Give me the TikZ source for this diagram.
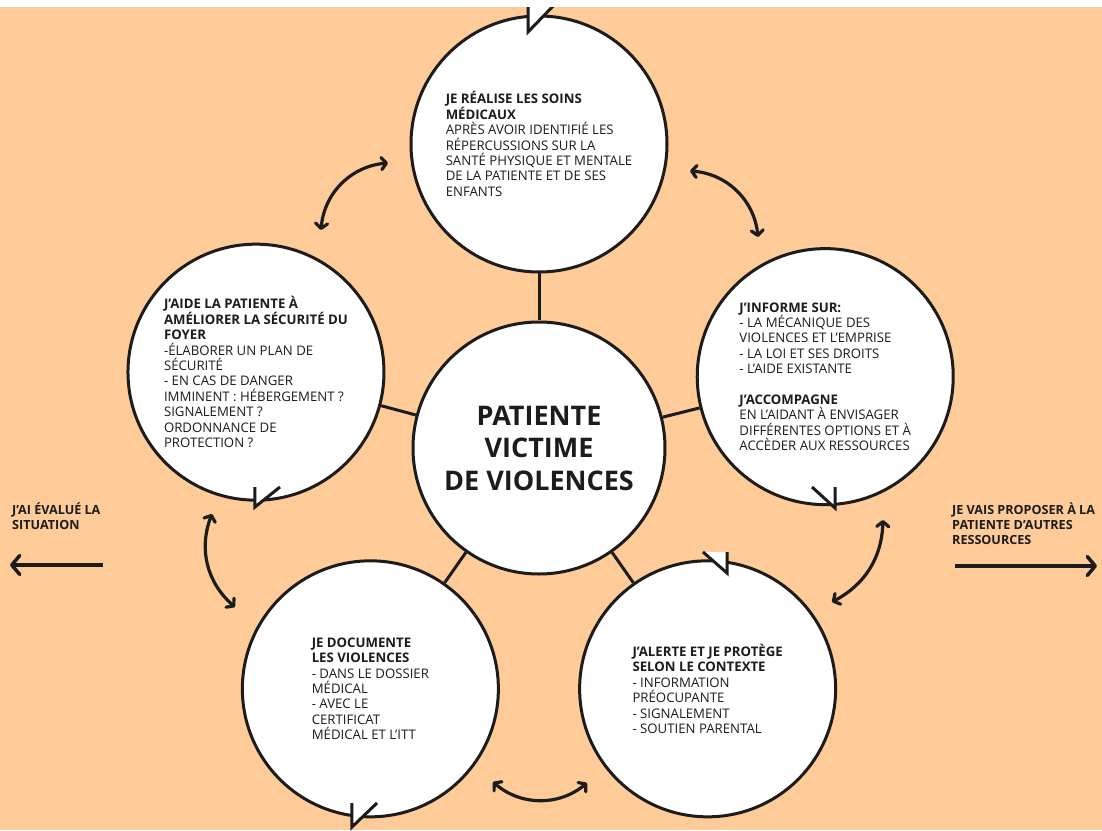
\documentclass[tikz,border=0pt]{standalone}
\usepackage{fontspec}
\setmainfont{Open Sans}
\usetikzlibrary{arrows.meta, positioning, calc, backgrounds}
\definecolor{peachBg}{RGB}{254, 203, 153}
\definecolor{inkDark}{RGB}{28, 28, 28}
\tikzset{
    % Base Circle Style
    bubble/.style={
        circle,
        draw=inkDark,
        line width=3pt,
        fill=white,
        minimum size=256pt,
        inner sep=0pt,
        align=left,
        text=inkDark,
        font=\fontsize{13.2}{15.4}\selectfont
    },
    % Centre Circle
    hubCircle/.style={bubble, minimum size=252pt, align=center, font=\bfseries\fontsize{27}{32.5}\selectfont},
    % Links, Arrows & Labels
    link/.style={draw=inkDark, line width=3pt},
    cycleArrow/.style={{Straight Barb[round, length=5pt, width=12pt]}-{Straight Barb[round, length=5pt, width=12pt]}, draw=inkDark, line width=3.2pt},
    exitArrow/.style={-{Straight Barb[round, length=8pt, width=19pt]}, draw=inkDark, line width=3.5pt},
    bubbleTail/.style={draw=inkDark, fill=white, line width=3pt},
    sideLabel/.style={font=\bfseries\fontsize{12.6}{15}\selectfont, align=left, anchor=north west, inner sep=0pt, text=inkDark}
}

\begin{document}
\begin{tikzpicture}[x=1pt, y=1pt]

    \useasboundingbox (-539,-382) rectangle (563,448);
    \fill[peachBg] (-539,-382) rectangle (563,448);

    % --- CENTRE ---
    \node (hub) [hubCircle] at (0,0) {PATIENTE\\VICTIME\\DE VIOLENCES};

    % --- SURROUNDING STEPS ---

    % 1. Soins
    \node (soins) [bubble] at (90:304) {
        \textbf{JE RÉALISE LES SOINS}\\
        \textbf{MÉDICAUX}\\
        APRÈS AVOIR IDENTIFIÉ LES\\
        RÉPERCUSSIONS SUR LA\\
        SANTÉ PHYSIQUE ET MENTALE\\
        DE LA PATIENTE ET DE SES\\
        ENFANTS
    };

    % 2. Informe
    \node (informe) [bubble] at (14:295) {
        \textbf{J'INFORME SUR:}\\
        - LA MÉCANIQUE DES\\
        VIOLENCES ET L'EMPRISE\\
        - LA LOI ET SES DROITS\\
        - L'AIDE EXISTANTE\\[15.4pt]
        \textbf{J'ACCOMPAGNE}\\
        EN L'AIDANT À ENVISAGER\\
        DIFFÉRENTES OPTIONS ET À\\
        ACCÈDER AUX RESSOURCES
    };

    % 3. Alerte
    \node (alerte) [bubble] at (305:294) {
        \textbf{J'ALERTE ET JE PROTÈGE}\\
        \textbf{SELON LE CONTEXTE}\\
        - INFORMATION\\
        PRÉOCUPANTE\\
        - SIGNALEMENT\\
        - SOUTIEN PARENTAL
    };

    % 4. Documente
    \node (documente) [bubble] at (235:294) {
        \textbf{JE DOCUMENTE}\\
        \textbf{LES VIOLENCES}\\
        - DANS LE DOSSIER\\
        MÉDICAL\\
        - AVEC LE\\
        CERTIFICAT\\
        MÉDICAL ET L'ITT
    };

    % 5. Sécurité
    \node (securite) [bubble] at (165:293) {
        \textbf{J'AIDE LA PATIENTE À}\\
        \textbf{AMÉLIORER LA SÉCURITÉ DU}\\
        \textbf{FOYER}\\
        -ÉLABORER UN PLAN DE\\
        SÉCURITÉ\\
        - EN CAS DE DANGER\\
        IMMINENT : HÉBERGEMENT ?\\
        SIGNALEMENT ?\\
        ORDONNANCE DE\\
        PROTECTION ?
    };

    % --- Spokes ---
    \foreach \step in {soins, informe, alerte, documente, securite}
        \draw [link] (hub) -- (\step);

    % --- Bubble tails ---
    \filldraw [bubbleTail] (-11,448) -- (-11,416) -- (20,448);
    \filldraw [bubbleTail] (273,-39) -- (296,-60) -- (296,-39);
    \filldraw [bubbleTail] (164,-104) -- (188,-125) -- (188,-104);
    \filldraw [bubbleTail] (-187,-355) -- (-187,-379) -- (-162,-355);
    \filldraw [bubbleTail] (-284,-39) -- (-284,-59) -- (-259,-39);

    % --- Cycle arrows ---
    \coordinate (cycA1) at (-218,218);  \coordinate (cycA2) at (-151,285);
    \coordinate (cycB1) at (151,277);   \coordinate (cycB2) at (219,211);
    \coordinate (cycC1) at (344,-72);   \coordinate (cycC2) at (293,-154);
    \coordinate (cycD1) at (-46,-334);  \coordinate (cycD2) at (48,-335);
    \coordinate (cycE1) at (-327,-66);  \coordinate (cycE2) at (-304,-159);

    \draw [cycleArrow] (cycA1) to[bend left=40] (cycA2);
    \draw [cycleArrow] (cycB1) to[bend left=40] (cycB2);
    \draw [cycleArrow] (cycC1) to[bend left=30] (cycC2);
    \draw [cycleArrow] (cycD1) to[bend right=40] (cycD2);
    \draw [cycleArrow] (cycE1) to[bend right=35] (cycE2);

    % --- Side labels (in / out) ---
    \node (evalue) [sideLabel] at (-527,-55) {J'AI ÉVALUÉ LA\\SITUATION};
    \node (proposer) [sideLabel] at (413,-55) {JE VAIS PROPOSER À LA\\PATIENTE D'AUTRES\\RESSOURCES};

    \coordinate (evalueStart) at (-436,-117);
    \coordinate (evalueEnd) at (-529,-117);
    \coordinate (proposerStart) at (416,-118);
    \coordinate (proposerEnd) at (558,-118);
    \draw [exitArrow] (evalueStart) -- (evalueEnd);
    \draw [exitArrow] (proposerStart) -- (proposerEnd);

    % top white strip
    \fill[white] (-539,441) rectangle (563,448);

\end{tikzpicture}
\end{document}
